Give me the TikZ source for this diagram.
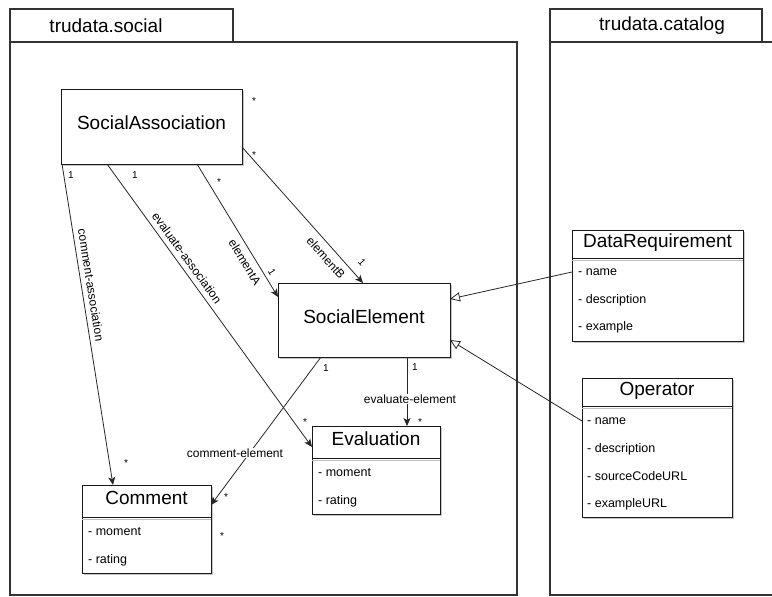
\documentclass[tikz,border=0pt]{standalone}
\usepackage{fontspec}
\setmainfont{Liberation Sans}
\usetikzlibrary{arrows.meta,shadows}

\begin{document}
\begin{tikzpicture}[x=1pt,y=-1pt,
  pkgbox/.style={draw=black!80, line width=1.5pt, anchor=north west, inner sep=0pt, outer sep=0pt},
  pkgtitle/.style={font=\fontsize{19}{22}\selectfont, inner sep=0pt},
  classbox/.style={draw=black!90, line width=0.9pt, fill=white, anchor=north west,
    inner sep=0pt, outer sep=0pt,
    drop shadow={shadow xshift=1.6pt, shadow yshift=-1.6pt, fill=black!22, opacity=1}},
  classname/.style={font=\fontsize{19}{22}\selectfont, inner sep=0pt, text height=0.72em, text depth=0.21em},
  attr/.style={font=\fontsize{12.5}{15}\selectfont, anchor=west, inner sep=0pt},
  divider/.style={draw=black!90, line width=0.9pt},
  divshade/.style={draw=black!25, line width=0.9pt},
  assoc/.style={draw=black!85, line width=0.8pt, -{Stealth[length=8pt,width=7pt,inset=2pt]}},
  gen/.style={draw=black!85, line width=0.8pt, -{Triangle[open,length=10pt,width=9pt,fill=white]}},
  elabel/.style={font=\fontsize{12}{14}\selectfont, inner sep=1pt},
  mult/.style={font=\fontsize{10}{12}\selectfont, inner sep=0pt},
  star/.style={font=\fontsize{10}{12}\selectfont, inner sep=0pt, yshift=-2pt}]

\useasboundingbox (0,0) rectangle (772,597);

% package frames
\node[pkgbox, minimum width=223, minimum height=33] (socialtab) at (10,9) {};
\node[pkgbox, minimum width=507, minimum height=553] (socialbody) at (10,42) {};
\node[pkgtitle] (socialname) at (106,26) {trudata.social};
\node[pkgbox, minimum width=212, minimum height=33] (catalogtab) at (550,9) {};
\node[pkgbox, minimum width=240, minimum height=553] (catalogbody) at (550,42) {};
\node[pkgtitle] (catalogname) at (662,26) {trudata.catalog};

% classes
\node[classbox, minimum width=181, minimum height=75] (sa) at (61,89) {};
\node[classname] (saname) at (151.5,127) {SocialAssociation};

\node[classbox, minimum width=172, minimum height=74] (se) at (278,283) {};
\node[classname] (sename) at (364,321) {SocialElement};

\node[classbox, minimum width=128, minimum height=88] (ev) at (312,426) {};
\node[classname] (evname) at (376,443) {Evaluation};
\draw[divshade] ([yshift=-34pt]ev.north west) -- ([yshift=-34pt]ev.north east);
\draw[divider] ([yshift=-32pt]ev.north west) -- ([yshift=-32pt]ev.north east);
\node[attr] (evmoment) at (318,473) {- moment};
\node[attr] (evrating) at (318,501) {- rating};

\node[classbox, minimum width=129, minimum height=88] (cm) at (82,485) {};
\node[classname] (cmname) at (146.5,502) {Comment};
\draw[divshade] ([yshift=-34pt]cm.north west) -- ([yshift=-34pt]cm.north east);
\draw[divider] ([yshift=-32pt]cm.north west) -- ([yshift=-32pt]cm.north east);
\node[attr] (cmmoment) at (88,532) {- moment};
\node[attr] (cmrating) at (88,560) {- rating};

\node[classbox, minimum width=171, minimum height=111] (dr) at (572,230) {};
\node[classname] (drname) at (657.5,245) {DataRequirement};
\draw[divshade] ([yshift=-30pt]dr.north west) -- ([yshift=-30pt]dr.north east);
\draw[divider] ([yshift=-28pt]dr.north west) -- ([yshift=-28pt]dr.north east);
\node[attr] (drname1) at (578,272) {- name};
\node[attr] (drdesc) at (578,300) {- description};
\node[attr] (drexample) at (578,327) {- example};

\node[classbox, minimum width=150, minimum height=139] (op) at (582,378) {};
\node[classname] (opname) at (657,393) {Operator};
\draw[divshade] ([yshift=-30pt]op.north west) -- ([yshift=-30pt]op.north east);
\draw[divider] ([yshift=-28pt]op.north west) -- ([yshift=-28pt]op.north east);
\node[attr] (opname1) at (587,421) {- name};
\node[attr] (opdesc) at (587,449) {- description};
\node[attr] (opsource) at (587,476) {- sourceCodeURL};
\node[attr] (opexample) at (587,504) {- exampleURL};

% associations
\draw[assoc] ([xshift=1pt]sa.south west) -- ([xshift=31pt]cm.north west);
\draw[assoc] ([xshift=46pt]sa.south west) -- ([yshift=-21pt]ev.north west);
\draw[assoc] ([xshift=136pt]sa.south west) -- ([yshift=-14pt]se.north west);
\draw[assoc] ([yshift=17pt]sa.south east) -- ([xshift=85pt]se.north west);
\draw[assoc] ([xshift=43pt]se.south west) -- ([yshift=-20pt]cm.north east);
\draw[assoc] ([xshift=129pt]se.south west) -- ([xshift=95pt]ev.north west);

% generalisations
\draw[gen] ([yshift=-42pt]dr.north west) -- ([yshift=-16pt]se.north east);
\draw[gen] ([yshift=-43pt]op.north west) -- ([yshift=-57pt]se.north east);

% association names
\node[elabel, rotate=-81] (lca) at (91,285) {comment-association};
\node[elabel, rotate=-54] (lea) at (187,258) {evaluate-association};
\node[elabel, rotate=-58.7] (lela) at (245,262) {elementA};
\node[elabel, rotate=-48.3] (lelb) at (326,258) {elementB};
\node[elabel, fill=white] (lee) at (410,399) {evaluate-element};
\node[elabel, fill=white] (lce) at (235,453) {comment-element};

% multiplicities
\node[mult] (m1) at (71,175) {1};
\node[mult] (m2) at (135,175) {1};
\node[star] (s1) at (219,180) {*};
\node[star] (s2) at (254,99) {*};
\node[star] (s3) at (254,153) {*};
\node[mult, rotate=-58.7] (m3) at (272,272) {1};
\node[mult, rotate=-48.3] (m4) at (362,262) {1};
\node[mult] (m5) at (326,368) {1};
\node[mult] (m6) at (415,367) {1};
\node[star] (s4) at (420,420) {*};
\node[star] (s5) at (305,420) {*};
\node[star] (s6) at (126,461) {*};
\node[star] (s7) at (226,495) {*};
\node[star] (s8) at (222,534) {*};
\end{tikzpicture}
\end{document}
